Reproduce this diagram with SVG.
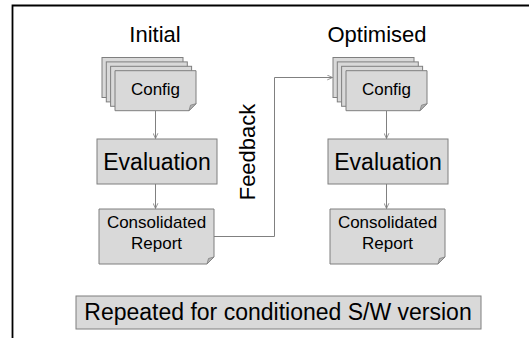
<svg xmlns="http://www.w3.org/2000/svg" width="529" height="338" viewBox="0 0 529 338">
  <style>
    .box { fill: #d9d9d9; stroke: #7f7f7f; stroke-width: 1; }
    .fold { fill: #b3b3b3; stroke: #7f7f7f; stroke-width: 0.8; }
    .txt { font-family: "Liberation Sans", Arial, sans-serif; fill: #000; text-anchor: middle; }
    .head { font-size: 22px; }
    .eval { font-size: 23px; }
    .small { font-size: 17px; }
    .wire { fill: none; stroke: #808080; stroke-width: 1; }
  </style>
  <defs>
    <marker id="arrow" viewBox="0 0 8 8" refX="7.5" refY="4" markerWidth="6" markerHeight="6" markerUnits="userSpaceOnUse" orient="auto">
      <path d="M0.5,0.8 L7.5,4 L0.5,7.2" fill="none" stroke="#808080" stroke-width="1.1"/>
    </marker>
    <!-- stack of four pages, front page has a dog-ear -->
    <g id="pageStack">
      <rect class="box" x="0" y="0" width="81" height="40"/>
      <rect class="box" x="4.3" y="4.4" width="81" height="40"/>
      <rect class="box" x="8.6" y="8.8" width="81" height="40"/>
      <path class="box" d="M13,13.2 H94 V46.2 L87,53.2 H13 Z"/>
      <path class="fold" d="M94,46.2 L87,53.2 L88.5,47.7 Z"/>
    </g>
    <!-- document shape with folded corner -->
    <g id="report">
      <path class="box" d="M0,0 H115 V48 L108,55 H0 Z"/>
      <path class="fold" d="M115,48 L108,55 L109.5,49.5 Z"/>
    </g>
  </defs>

  <!-- frame -->
  <path d="M12.5,338 V5.5 H529" fill="none" stroke="#000" stroke-width="1.8"/>

  <!-- column headings -->
  <text class="txt head" x="155" y="41.5">Initial</text>
  <text class="txt head" x="377" y="41.5">Optimised</text>

  <!-- connectors -->
  <g id="connectors">
    <line class="wire" x1="155.5" y1="111" x2="155.5" y2="138.5" marker-end="url(#arrow)"/>
    <line class="wire" x1="155.5" y1="184" x2="155.5" y2="208.5" marker-end="url(#arrow)"/>
    <line class="wire" x1="386.5" y1="111" x2="386.5" y2="138.5" marker-end="url(#arrow)"/>
    <line class="wire" x1="386.5" y1="184" x2="386.5" y2="208.5" marker-end="url(#arrow)"/>
    <path class="wire" d="M214,236.5 H274.5 V77.5 H332.5" marker-end="url(#arrow)"/>
  </g>

  <!-- initial run -->
  <g id="config-initial">
    <use href="#pageStack" x="102" y="57.5"/>
    <text class="txt small" x="155.5" y="95">Config</text>
  </g>
  <g id="evaluation-initial">
    <rect class="box" x="97" y="139" width="120" height="45"/>
    <text class="txt eval" x="157" y="170">Evaluation</text>
  </g>
  <g id="report-initial">
    <use href="#report" x="99" y="209"/>
    <text class="txt small" x="156.5" y="228">Consolidated</text>
    <text class="txt small" x="156.5" y="249">Report</text>
  </g>

  <!-- feedback label -->
  <g id="feedback">
    <text class="txt head" transform="translate(255,152) rotate(-90)">Feedback</text>
  </g>

  <!-- optimised run -->
  <g id="config-optimised">
    <use href="#pageStack" x="333" y="57.5"/>
    <text class="txt small" x="386.5" y="95">Config</text>
  </g>
  <g id="evaluation-optimised">
    <rect class="box" x="328" y="139" width="120" height="45"/>
    <text class="txt eval" x="388" y="170">Evaluation</text>
  </g>
  <g id="report-optimised">
    <use href="#report" x="330" y="209"/>
    <text class="txt small" x="387.5" y="228">Consolidated</text>
    <text class="txt small" x="387.5" y="249">Report</text>
  </g>

  <!-- footnote banner -->
  <g id="repeat-note">
    <rect class="box" x="76" y="296" width="405" height="33"/>
    <text class="txt" style="font-size:23px" x="278" y="320">Repeated for conditioned S/W version</text>
  </g>
</svg>
